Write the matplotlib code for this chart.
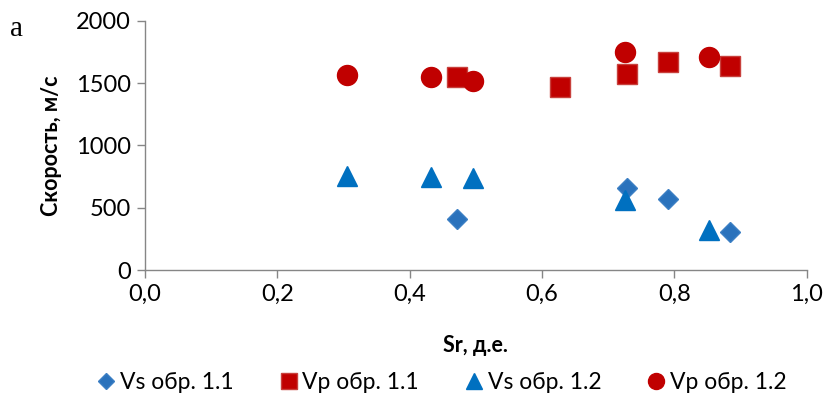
import matplotlib
matplotlib.use('Agg')
import matplotlib.pyplot as plt
from matplotlib.ticker import FuncFormatter

plt.rcParams['font.family'] = ['Lato', 'Noto Sans', 'DejaVu Sans']

# Sr, д.е. and velocities, m/s
sr_vs11 = [0.471, 0.729, 0.790, 0.884]
vs_11 = [410, 656, 570, 303]

sr_vp11 = [0.471, 0.627, 0.729, 0.790, 0.884]
vp_11 = [1553, 1467, 1572, 1673, 1639]

sr_12 = [0.305, 0.432, 0.495, 0.726, 0.853]
vs_12 = [755, 750, 741, 562, 321]
vp_12 = [1566, 1548, 1521, 1754, 1711]

red = '#C00000'
blue = '#0070C0'
grey = '#868686'

fig = plt.figure(figsize=(8.29, 4.03), dpi=100)
ax = fig.add_axes([0.175, 0.330, 0.798, 0.618])

ax.plot(sr_vs11, vs_11, 'D', color='#2A72BC', markeredgecolor='#3C7FC4', markersize=10.2, label='Vs обр. 1.1')
ax.plot(sr_vp11, vp_11, 's', color=red, markeredgecolor='#C8403C', markersize=14.2, label='Vp обр. 1.1')
ax.plot(sr_12, vs_12, '^', color=blue, markersize=14.4, label='Vs обр. 1.2')
ax.plot(sr_12, vp_12, 'o', color=red, markersize=14.4, label='Vp обр. 1.2')

ax.set_xlim(0, 1.0)
ax.set_ylim(0, 2000)
ax.set_xticks([0, 0.2, 0.4, 0.6, 0.8, 1.0])
ax.set_yticks([0, 500, 1000, 1500, 2000])
ax.xaxis.set_major_formatter(FuncFormatter(lambda v, p: f'{v:.1f}'.replace('.', ',')))

for s in ['top', 'right']:
    ax.spines[s].set_visible(False)
for s in ['left', 'bottom']:
    ax.spines[s].set_color(grey)
    ax.spines[s].set_linewidth(1.0)
ax.tick_params(axis='both', colors=grey, length=6, width=1.0, labelsize=17, labelcolor='black', pad=4)

ax.set_xlabel('Sr, д.е.', fontsize=15.5, fontweight='bold', labelpad=22)
ax.set_ylabel('Скорость, м/с', fontsize=15.5, fontweight='bold', labelpad=10)

fig.text(0.012, 0.91, 'а', fontsize=21, family='Liberation Serif')

leg = fig.legend(loc='center', bbox_to_anchor=(0.533, 0.05), ncol=4, frameon=False,
                 fontsize=16.5, markerscale=0.8, handlelength=0.8, handletextpad=0.2,
                 columnspacing=2.0)

fig.savefig('out.png', dpi=100)
